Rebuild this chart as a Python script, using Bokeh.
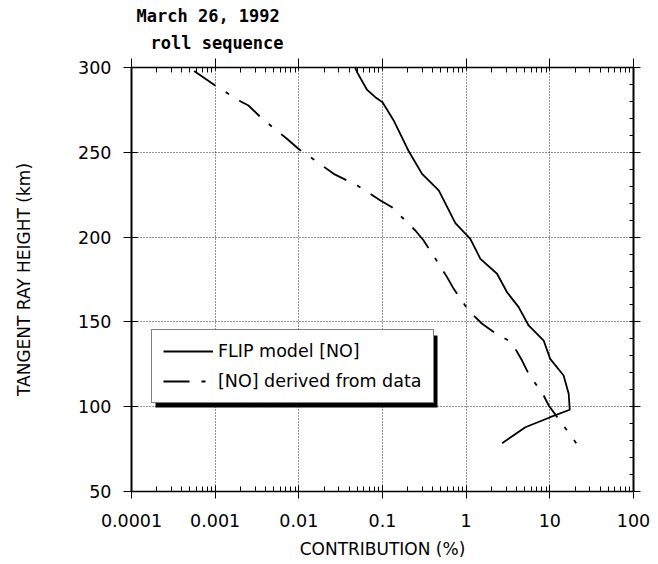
from bokeh.plotting import figure
from bokeh.models import (Range1d, LogAxis, LinearAxis, FixedTicker, Legend, LegendItem,
                          BoxAnnotation, Title, CustomJSTickFormatter)
from bokeh.embed import file_html
from bokeh.resources import INLINE
import math

# ---------------- data ----------------
title_lines = ["March 26, 1992", "roll sequence"]
x_label = "CONTRIBUTION (%)"
y_label = "TANGENT RAY HEIGHT (km)"

x_ticks = [1e-4, 1e-3, 1e-2, 1e-1, 1, 10, 100]
x_tick_labels = ["0.0001", "0.001", "0.01", "0.1", "1", "10", "100"]
y_ticks = [50, 100, 150, 200, 250, 300]
y_tick_labels = ["50", "100", "150", "200", "250", "300"]

flip_contrib = [0.047, 0.05, 0.065, 0.082, 0.1, 0.136, 0.206, 0.297, 0.47, 0.743, 1.12,
                1.48, 2.34, 3.08, 4.24, 5.58, 8.44, 10.1, 14.6, 16.8, 17.3, 10.1, 5.1, 2.69]
flip_height = [300, 297, 287, 282.5, 279.5, 268.8, 250.6, 237.3, 227.5, 208.2, 199,
               187.2, 178.4, 167.5, 158.7, 147.9, 139, 128.2, 118.4, 107.6, 98.2, 93.8, 87.9, 78.5]

data_contrib = [0.00056, 0.001, 0.002, 0.0025, 0.00365, 0.0072, 0.0102, 0.0138, 0.0261,
                0.0498, 0.0716, 0.0944, 0.130, 0.171, 0.247, 0.310, 0.469, 0.591, 0.71,
                1.07, 1.55, 2.13, 3.22, 3.87, 4.66, 5.58, 8.44, 9.7, 13.1, 20.7]
data_height = [298, 289.4, 280.1, 277.6, 269.8, 258, 251.5, 247.1, 237.3,
               230.4, 225.5, 221.6, 217.6, 211.7, 203.9, 198, 184.3, 176.4, 169.5,
               156.7, 148.9, 144.1, 139, 134.1, 127.2, 119.4, 106.6, 100.7, 91.9, 78.5]

series_names = ["FLIP model [NO]", "[NO] derived from data"]

# ---------------- layout constants ----------------
W, H = 658, 564
ML, MR, MT, MB = 131, 25, 67, 73
FW, FH = W - ML - MR, H - MT - MB
XMIN, XMAX = 1e-4, 100
YMIN, YMAX = 50, 300


def px2x(px):
    return 10 ** (math.log10(XMIN) + (px - ML) / FW * (math.log10(XMAX) - math.log10(XMIN)))


def py2y(py):
    return YMIN + (MT + FH - py) / FH * (YMAX - YMIN)


minor_x = [m * 10 ** e for e in range(-4, 2) for m in range(2, 10)]
minor_y = [v for v in range(50, 301, 10) if v % 50 != 0]

p = figure(width=W, height=H, x_axis_type="log",
           x_range=Range1d(XMIN, XMAX), y_range=Range1d(YMIN, YMAX),
           output_backend="svg", toolbar_location=None,
           min_border_left=ML, min_border_right=MR, min_border_top=MT, min_border_bottom=MB,
           background_fill_color="white", border_fill_color="white",
           outline_line_color=None)

FONT = "DejaVu Sans"

# grids
p.xgrid.ticker = FixedTicker(ticks=x_ticks)
p.ygrid.ticker = FixedTicker(ticks=y_ticks)
for g in (p.xgrid, p.ygrid):
    g.grid_line_color = "black"
    g.grid_line_dash = "1 2"
    g.grid_line_alpha = 0.85
    g.grid_line_width = 1

# bottom axis
xa = p.xaxis[0]
xa.ticker = FixedTicker(ticks=x_ticks, minor_ticks=minor_x)
xa.major_label_overrides = {t: l for t, l in zip(x_ticks, x_tick_labels)}
xa.axis_label = x_label
xa.axis_label_text_font = FONT
xa.axis_label_text_font_size = "17px"
xa.axis_label_text_font_style = "normal"
xa.axis_label_standoff = 9
xa.major_label_text_font = FONT
xa.major_label_text_font_size = "17.5px"
xa.major_label_standoff = 15
xa.major_tick_out = 7
xa.major_tick_in = 6
xa.minor_tick_in = 5
xa.minor_tick_out = 0
xa.axis_line_width = 1.5

# left axis
ya = p.yaxis[0]
ya.ticker = FixedTicker(ticks=y_ticks, minor_ticks=[])
ya.major_label_overrides = {t: l for t, l in zip(y_ticks, y_tick_labels)}
ya.axis_label = y_label
ya.axis_label_text_font = FONT
ya.axis_label_text_font_size = "17px"
ya.axis_label_text_font_style = "normal"
ya.axis_label_standoff = 41
ya.major_label_text_font = FONT
ya.major_label_text_font_size = "17.5px"
ya.major_label_standoff = 12
ya.major_tick_out = 8
ya.major_tick_in = 6
ya.minor_tick_in = 0
ya.minor_tick_out = 0
ya.axis_line_width = 2

for ax in (xa, ya):
    ax.axis_line_color = "black"
    ax.major_tick_line_color = "black"
    ax.minor_tick_line_color = "black"
    ax.major_label_text_color = "black"
    ax.axis_label_text_color = "black"

blank = CustomJSTickFormatter(code="return ''")

top = LogAxis(ticker=FixedTicker(ticks=x_ticks, minor_ticks=minor_x), formatter=blank,
              major_label_text_font_size="0px", major_label_standoff=0,
              major_tick_out=9, major_tick_in=3, minor_tick_in=5, minor_tick_out=0,
              axis_line_width=1.5, axis_line_color="black",
              major_tick_line_color="black", minor_tick_line_color="black")
p.add_layout(top, "above")

right = LinearAxis(ticker=FixedTicker(ticks=y_ticks, minor_ticks=minor_y), formatter=blank,
                   major_label_text_font_size="0px", major_label_standoff=0,
                   major_tick_out=7, major_tick_in=4, minor_tick_in=4, minor_tick_out=0,
                   axis_line_width=2, axis_line_color="black",
                   major_tick_line_color="black", minor_tick_line_color="black")
p.add_layout(right, "right")

# title lines (nearest to frame added first)
p.add_layout(Title(text=title_lines[1], align="left", offset=19, standoff=11,
                   text_font="DejaVu Sans Mono", text_font_style="bold",
                   text_font_size="17px", text_color="black"), "above")
p.add_layout(Title(text=title_lines[0], align="left", offset=5, standoff=0,
                   text_font="DejaVu Sans Mono", text_font_style="bold",
                   text_font_size="17px", text_color="black"), "above")

# curves
r1 = p.line(flip_contrib, flip_height, line_color="black", line_width=1.8)
r2 = p.line(data_contrib, data_height, line_color="black", line_width=1.8,
            line_dash="26 12 4 12")

# legend shadow + legend
LEG_X, LEG_Y = 20, 88
shadow = BoxAnnotation(left=px2x(ML + LEG_X + 4), right=px2x(ML + LEG_X + 286),
                       bottom=py2y(MT + FH - LEG_Y + 4), top=py2y(MT + FH - LEG_Y - 68),
                       fill_color="black", fill_alpha=1, line_color=None)
p.add_layout(shadow)

legend = Legend(items=[LegendItem(label=series_names[0], renderers=[r1]),
                       LegendItem(label=series_names[1], renderers=[r2])],
                location=(LEG_X, LEG_Y), border_line_color="black", border_line_width=1.5,
                background_fill_color="white", background_fill_alpha=1.0,
                label_text_font=FONT, label_text_font_size="17.5px", label_text_color="black",
                glyph_width=50, glyph_height=20, label_height=20, label_standoff=5,
                spacing=10, padding=11, margin=0)
p.add_layout(legend, "center")

open("out.html", "w").write(file_html(p, INLINE))
